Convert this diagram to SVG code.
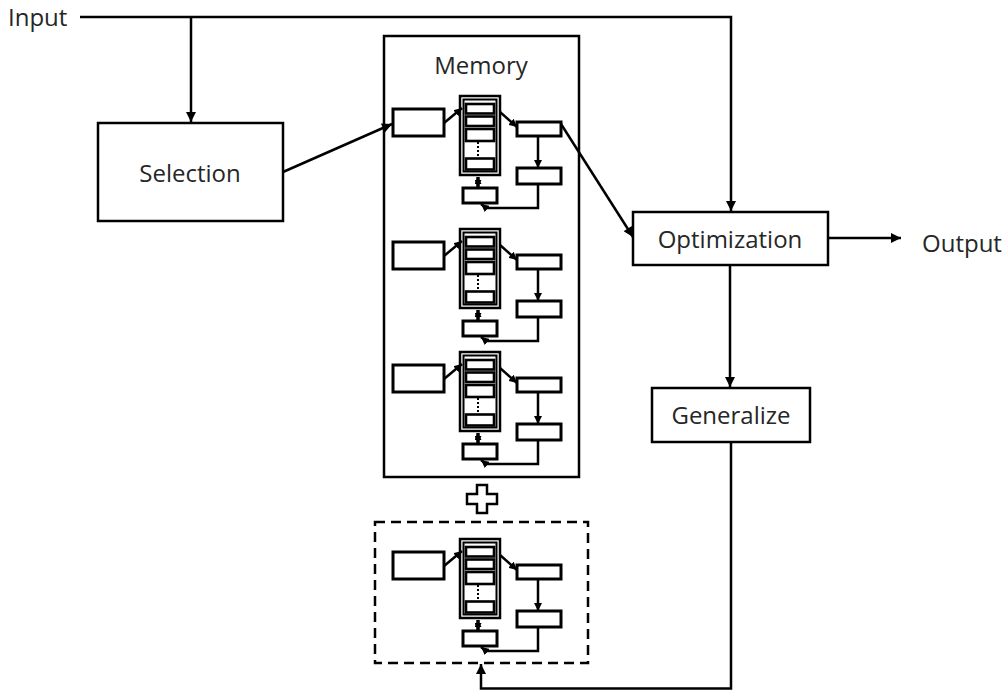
<svg xmlns="http://www.w3.org/2000/svg" width="1008" height="691" viewBox="0 0 1008 691">
<style>
text{font-family:"Open Sans","Noto Sans",sans-serif;font-size:24px;fill:#262626}
.box{fill:#fff;stroke:#000;stroke-width:2.5}
.ln{fill:none;stroke:#000;stroke-width:2.5}
.sb{fill:#fff;stroke:#000;stroke-width:3}
.sl{fill:none;stroke:#000;stroke-width:2.5}
.row{fill:#fff;stroke:#000;stroke-width:2.6}
</style>
<defs>
<marker id="ah" viewBox="0 0 10 10" refX="10" refY="5" markerWidth="11" markerHeight="10" markerUnits="userSpaceOnUse" orient="auto"><path d="M0,0 L10,5 L0,10 Z" fill="#000"/></marker>
<marker id="sh" viewBox="0 0 10 10" refX="10" refY="5" markerWidth="8" markerHeight="8" markerUnits="userSpaceOnUse" orient="auto"><path d="M0,0 L10,5 L0,10 Z" fill="#000"/></marker>
<marker id="sh2" viewBox="0 0 10 10" refX="10" refY="5" markerWidth="7" markerHeight="7" markerUnits="userSpaceOnUse" orient="auto-start-reverse"><path d="M0,0 L10,5 L0,10 Z" fill="#000"/></marker>
<g id="module">
<rect class="sb" x="393" y="109" width="51" height="27"/>
<rect x="460" y="96" width="40" height="79" fill="#fff" stroke="#000" stroke-width="2.5"/>
<rect x="463.5" y="99.5" width="33" height="72" fill="none" stroke="#000" stroke-width="2"/>
<rect class="row" x="466" y="104" width="28" height="9.5"/>
<rect class="row" x="466" y="116.5" width="28" height="9.5"/>
<rect class="row" x="466" y="129" width="28" height="12"/>
<line x1="478" y1="142" x2="478" y2="158" stroke="#000" stroke-width="2" stroke-dasharray="2,2"/>
<rect class="row" x="466" y="158.5" width="28" height="11"/>
<line x1="478" y1="177" x2="478" y2="187" stroke="#000" stroke-width="3.5" marker-start="url(#sh2)" marker-end="url(#sh2)"/>
<rect class="sb" x="463" y="188" width="34" height="15"/>
<line class="sl" x1="444" y1="123" x2="462" y2="108" marker-end="url(#sh)"/>
<line class="sl" x1="500" y1="112" x2="517" y2="127" marker-end="url(#sh)"/>
<rect class="sb" x="517" y="122" width="44" height="14"/>
<line class="sl" x1="538" y1="136" x2="538" y2="168" marker-end="url(#sh)"/>
<rect class="sb" x="517" y="168" width="44" height="16"/>
<polyline class="sl" points="538,184 538,208 486,208 481,204" marker-end="url(#sh)"/>
</g>
</defs>
<g id="memory">
<rect class="box" x="384" y="36" width="195" height="441"/>
<text x="481" y="74" text-anchor="middle">Memory</text>
</g>
<g id="module1"><use href="#module"/></g>
<g id="module2"><use href="#module" transform="translate(0,133)"/></g>
<g id="module3"><use href="#module" transform="translate(0,256)"/></g>
<g id="new-module">
<rect x="375" y="522" width="213" height="141" fill="none" stroke="#000" stroke-width="2.5" stroke-dasharray="10,6"/>
<use href="#module" transform="translate(0,443)"/>
</g>
<g id="plus">
<path d="M477,485 H487 V494 H497 V504 H487 V513 H477 V504 H467 V494 H477 Z" fill="#fff" stroke="#000" stroke-width="2.5"/>
</g>
<g id="input"><text x="8" y="26">Input</text></g>
<g id="selection">
<rect class="box" x="98" y="123" width="185" height="98"/>
<text x="190" y="182" text-anchor="middle">Selection</text>
</g>
<g id="optimization">
<rect class="box" x="633" y="212" width="195" height="53"/>
<text x="730" y="248" text-anchor="middle">Optimization</text>
</g>
<g id="generalize">
<rect class="box" x="652" y="388" width="158" height="54"/>
<text x="731" y="424" text-anchor="middle">Generalize</text>
</g>
<g id="output"><text x="922" y="252">Output</text></g>
<g id="connectors">
<polyline class="ln" points="80,17 731,17 731,211" marker-end="url(#ah)"/>
<line class="ln" x1="191" y1="17" x2="191" y2="122" marker-end="url(#ah)"/>
<line class="ln" x1="283" y1="172" x2="392" y2="124" marker-end="url(#ah)"/>
<line class="ln" x1="561" y1="124" x2="633" y2="237" marker-end="url(#ah)"/>
<line class="ln" x1="828" y1="238" x2="901" y2="238" marker-end="url(#ah)"/>
<line class="ln" x1="730" y1="265" x2="730" y2="387" marker-end="url(#ah)"/>
<polyline class="ln" points="731,442 731,688.5 481,688.5 481,664" marker-end="url(#ah)"/>
</g>
</svg>
